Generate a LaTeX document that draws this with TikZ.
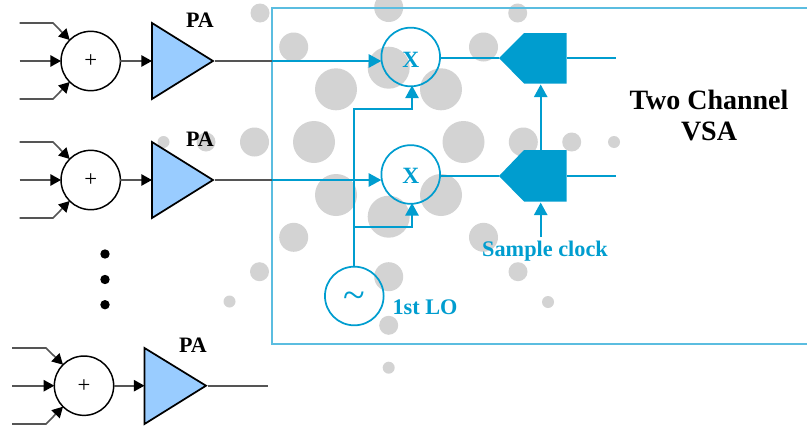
\documentclass[tikz,border=0pt]{standalone}
\usepackage{fontspec}
\setmainfont{Liberation Serif}
\usepackage{tikz}
\usetikzlibrary{arrows.meta}

\definecolor{vsablue}{HTML}{009DCF}
\definecolor{vsaframe}{HTML}{5BBDE0}
\definecolor{pafill}{HTML}{99CCFF}
\definecolor{spotgray}{HTML}{D3D3D3}
\definecolor{wiregray}{HTML}{555555}

\tikzset{
  spot/.style={fill=spotgray},
  wire/.style={wiregray, line width=1.2pt},
  wirearrow/.style={wire, -{Triangle[length=8pt,width=8.5pt,fill=black,color=black]}},
  bluewire/.style={vsablue, line width=1.4pt},
  bluearrow/.style={bluewire, -{Triangle[length=9.5pt,width=10pt]}},
  adder/.style={draw=black, circle, line width=1.1pt, minimum size=44.5pt, inner sep=0pt, outer sep=0pt, font=\fontsize{17}{17}\selectfont},
  mixer/.style={draw=vsablue, circle, line width=1.3pt, minimum size=44pt, inner sep=0pt, outer sep=0pt, text=vsablue},
  palabel/.style={font=\fontsize{16.5}{17}\selectfont\bfseries, text=black},
  bluelabel/.style={font=\fontsize{16.7}{17}\selectfont\bfseries, text=vsablue},
  vsalabel/.style={font=\fontsize{21}{21}\selectfont\bfseries, text=black},
  pablock/.style={fill=pafill, draw=black, line width=1.3pt, line join=miter}
}

\begin{document}
\begin{tikzpicture}[x=0.75pt,y=-0.75pt]
\useasboundingbox (0,0) rectangle (807,425);

% background spots
\fill[spot] (260,13) circle (9.5);
\fill[spot] (388.7,7.5) circle (14.5);
\fill[spot] (517.7,13) circle (9.5);
\fill[spot] (293.7,47) circle (14.5);
\fill[spot] (483.5,47) circle (14.5);
\fill[spot] (388.7,67.7) circle (21);
\fill[spot] (336,89.3) circle (21);
\fill[spot] (441,89.3) circle (21);
\fill[spot] (163.5,142) circle (6);
\fill[spot] (206,142) circle (9.5);
\fill[spot] (254.5,142) circle (14.5);
\fill[spot] (314,142) circle (21);
\fill[spot] (463.5,142) circle (21);
\fill[spot] (523.3,142) circle (14.5);
\fill[spot] (571.7,142) circle (9.5);
\fill[spot] (614,142) circle (6);
\fill[spot] (336,195) circle (21);
\fill[spot] (441,195) circle (21);
\fill[spot] (388.7,216.7) circle (21);
\fill[spot] (293.7,237.3) circle (14.5);
\fill[spot] (483.5,237.3) circle (14.5);
\fill[spot] (259.5,271.7) circle (9.5);
\fill[spot] (388.7,276.7) circle (14.5);
\fill[spot] (518,271.7) circle (9.5);
\fill[spot] (229.5,301.5) circle (6);
\fill[spot] (548,302) circle (6);
\fill[spot] (388.7,325.3) circle (9.5);
\fill[spot] (388.7,367.7) circle (6);

% analyzer frame
\coordinate (frameTR) at (807,8);
\coordinate (frameTL) at (272,8);
\coordinate (frameBL) at (272,344);
\coordinate (frameBR) at (807,344);
\draw[vsaframe, line width=1.2pt] (frameTR) -- (frameTL) -- (frameBL) -- (frameBR);

% first PA chain
\node[adder] (sumA) at (90.7,61) {+};
\coordinate (inAa) at (19.5,23);
\coordinate (inAb) at (53,23);
\coordinate (inAc) at (19.5,61);
\coordinate (inAd) at (19.5,99);
\coordinate (inAe) at (53,99);
\coordinate (paAa) at (152,23);
\coordinate (paAb) at (152,99);
\coordinate (paAc) at (213,61);
\coordinate (paAin) at (152,61);
\coordinate (paAout) at (215,61);
\coordinate (frameA) at (272,61);
\draw[pablock] (paAa) -- (paAc) -- (paAb) -- cycle;
\draw[wirearrow] (inAa) -- (inAb) -- (sumA.135);
\draw[wirearrow] (inAc) -- (sumA.west);
\draw[wirearrow] (inAd) -- (inAe) -- (sumA.225);
\draw[wirearrow] (sumA.east) -- (paAin);
\draw[wire] (paAout) -- (frameA);
\node[palabel] (paA) at (200,20) {PA};

% second PA chain
\node[adder] (sumB) at (90.7,180) {+};
\coordinate (inBa) at (19.5,142);
\coordinate (inBb) at (53,142);
\coordinate (inBc) at (19.5,180);
\coordinate (inBd) at (19.5,218);
\coordinate (inBe) at (53,218);
\coordinate (paBa) at (152,142);
\coordinate (paBb) at (152,218);
\coordinate (paBc) at (213,180);
\coordinate (paBin) at (152,180);
\coordinate (paBout) at (215,180);
\coordinate (frameB) at (272,180);
\draw[pablock] (paBa) -- (paBc) -- (paBb) -- cycle;
\draw[wirearrow] (inBa) -- (inBb) -- (sumB.135);
\draw[wirearrow] (inBc) -- (sumB.west);
\draw[wirearrow] (inBd) -- (inBe) -- (sumB.225);
\draw[wirearrow] (sumB.east) -- (paBin);
\draw[wire] (paBout) -- (frameB);
\node[palabel] (paB) at (200,139) {PA};

% dots
\fill[black] (105,254) circle (4.7);
\fill[black] (105,279.5) circle (4.7);
\fill[black] (105,304.7) circle (4.7);

% third PA chain
\node[adder] (sumC) at (84,385.7) {+};
\coordinate (inCa) at (12,348);
\coordinate (inCb) at (46,348);
\coordinate (inCc) at (12,385.7);
\coordinate (inCd) at (12,424);
\coordinate (inCe) at (46,424);
\coordinate (paCa) at (144.5,348);
\coordinate (paCb) at (144.5,424);
\coordinate (paCc) at (206,385.7);
\coordinate (paCin) at (144.5,385.7);
\coordinate (paCout) at (208,385.7);
\coordinate (endC) at (268,385.7);
\draw[pablock] (paCa) -- (paCc) -- (paCb) -- cycle;
\draw[wirearrow] (inCa) -- (inCb) -- (sumC.135);
\draw[wirearrow] (inCc) -- (sumC.west);
\draw[wirearrow] (inCd) -- (inCe) -- (sumC.225);
\draw[wirearrow] (sumC.east) -- (paCin);
\draw[wire] (paCout) -- (endC);
\node[palabel] (paC) at (193,345) {PA};

% mixers and LO
\node[mixer, font=\fontsize{17.5}{18}\selectfont\bfseries] (mixA) at (410.7,57) {\raisebox{-8pt}[0pt][0pt]{X}};
\node[mixer, font=\fontsize{17.5}{18}\selectfont\bfseries] (mixB) at (410.7,174.5) {\raisebox{-7pt}[0pt][0pt]{X}};
\node[mixer, font=\fontsize{30}{30}\selectfont] (lo) at (354.3,296) {\raisebox{-9.5pt}[0pt][0pt]{\textasciitilde}};
\node[bluelabel] (loLabel) at (425,307) {1st LO};
\coordinate (loBendA) at (354.3,109);
\coordinate (loBendB) at (412,109);
\coordinate (loJoin) at (354.3,227);
\coordinate (loBendC) at (412,227);
\coordinate (mixAin) at (381.3,61);
\coordinate (mixBin) at (381.3,180);
\coordinate (mixAlo) at (412,85.5);
\coordinate (mixBlo) at (412,203);
\draw[bluearrow] (frameA) -- (mixAin);
\draw[bluearrow] (frameB) -- (mixBin);
\draw[bluearrow] (lo.north) -- (loBendA) -- (loBendB) -- (mixAlo);
\draw[bluearrow] (loJoin) -- (loBendC) -- (mixBlo);

% samplers
\coordinate (adcAa) at (499,58);
\coordinate (adcAb) at (524,33);
\coordinate (adcAc) at (566.5,33);
\coordinate (adcAd) at (566.5,83.5);
\coordinate (adcAe) at (524,83.5);
\coordinate (adcAout) at (566.5,58);
\coordinate (endAout) at (616,58);
\coordinate (adcBa) at (499,176);
\coordinate (adcBb) at (524,150);
\coordinate (adcBc) at (566.5,150);
\coordinate (adcBd) at (566.5,201.5);
\coordinate (adcBe) at (524,201.5);
\coordinate (adcBout) at (566.5,176);
\coordinate (endBout) at (616,176);
\coordinate (adcBtop) at (540.7,150);
\coordinate (adcAbot) at (540.7,84.5);
\coordinate (adcBbot) at (540.7,202.5);
\coordinate (clockEnd) at (540.7,237);
\fill[vsablue] (adcAa) -- (adcAb) -- (adcAc) -- (adcAd) -- (adcAe) -- cycle;
\fill[vsablue] (adcBa) -- (adcBb) -- (adcBc) -- (adcBd) -- (adcBe) -- cycle;
\draw[bluewire] (mixA.east |- adcAa) -- (adcAa);
\draw[bluewire] (mixB.east |- adcBa) -- (adcBa);
\draw[bluewire] (adcAout) -- (endAout);
\draw[bluewire] (adcBout) -- (endBout);
\draw[bluearrow] (adcBtop) -- (adcAbot);
\draw[bluearrow] (clockEnd) -- (adcBbot);
\node[bluelabel] (clockLabel) at (545,251) {Sample clock};

\node[vsalabel] (vsaA) at (709,100) {Two Channel};
\node[vsalabel] (vsaB) at (709,131) {VSA};

\end{tikzpicture}
\end{document}
